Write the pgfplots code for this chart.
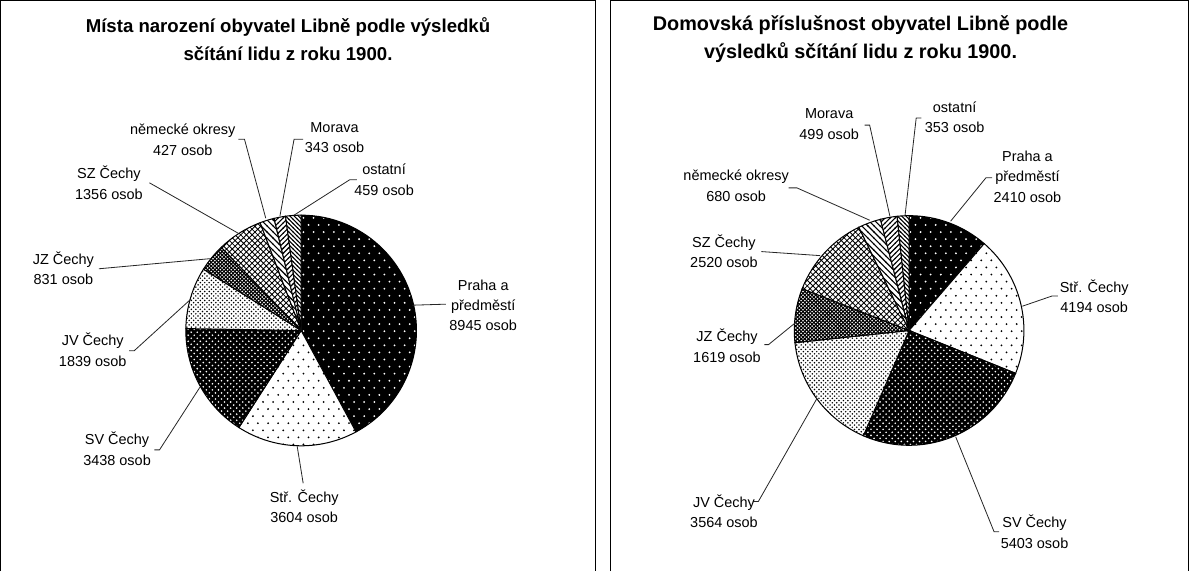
\documentclass[border=0pt]{standalone}
\usepackage{fontspec}
\setmainfont{Liberation Sans}
\usepackage{pgfplots}
\pgfplotsset{compat=1.18}
\usepackage{pgfplotstable}
\usetikzlibrary{patterns}

% ---------- patterns ----------
\pgfdeclarepatternformonly{dotsA}{\pgfqpoint{-1pt}{-1pt}}{\pgfqpoint{4pt}{5pt}}{\pgfqpoint{5pt}{7pt}}{%
  \pgfpathcircle{\pgfqpoint{0pt}{0pt}}{0.5pt}%
  \pgfpathcircle{\pgfqpoint{2.5pt}{3.5pt}}{0.5pt}%
  \pgfusepath{fill}}
\pgfdeclarepatternformonly{dotsB}{\pgfqpoint{-1pt}{-1pt}}{\pgfqpoint{2.5pt}{2.5pt}}{\pgfqpoint{3pt}{3pt}}{%
  \pgfpathcircle{\pgfqpoint{0pt}{0pt}}{0.45pt}%
  \pgfpathcircle{\pgfqpoint{1.5pt}{1.5pt}}{0.45pt}%
  \pgfusepath{fill}}
\pgfdeclarepatternformonly{dotsC}{\pgfqpoint{-1pt}{-1pt}}{\pgfqpoint{2pt}{2pt}}{\pgfqpoint{2.2pt}{2.2pt}}{%
  \pgfpathcircle{\pgfqpoint{0pt}{0pt}}{0.42pt}%
  \pgfpathcircle{\pgfqpoint{1.1pt}{1.1pt}}{0.42pt}%
  \pgfusepath{fill}}
\pgfdeclarepatternformonly{xhatchA}{\pgfqpoint{-0.5pt}{-0.5pt}}{\pgfqpoint{2.3pt}{2.3pt}}{\pgfqpoint{1.8pt}{1.8pt}}{%
  \pgfsetlinewidth{0.5pt}%
  \pgfpathmoveto{\pgfqpoint{-0.2pt}{-0.2pt}}\pgfpathlineto{\pgfqpoint{2pt}{2pt}}%
  \pgfpathmoveto{\pgfqpoint{-0.2pt}{2pt}}\pgfpathlineto{\pgfqpoint{2pt}{-0.2pt}}%
  \pgfusepath{stroke}}
\pgfdeclarepatternformonly{xhatchB}{\pgfqpoint{-0.5pt}{-0.5pt}}{\pgfqpoint{3.3pt}{3.3pt}}{\pgfqpoint{2.8pt}{2.8pt}}{%
  \pgfsetlinewidth{0.4pt}%
  \pgfpathmoveto{\pgfqpoint{-0.2pt}{-0.2pt}}\pgfpathlineto{\pgfqpoint{3pt}{3pt}}%
  \pgfpathmoveto{\pgfqpoint{-0.2pt}{3pt}}\pgfpathlineto{\pgfqpoint{3pt}{-0.2pt}}%
  \pgfusepath{stroke}}
\pgfdeclarepatternformonly{nwA}{\pgfqpoint{-0.5pt}{-0.5pt}}{\pgfqpoint{3.5pt}{3.5pt}}{\pgfqpoint{3pt}{3pt}}{%
  \pgfsetlinewidth{0.55pt}%
  \pgfpathmoveto{\pgfqpoint{-0.2pt}{3.2pt}}\pgfpathlineto{\pgfqpoint{3.2pt}{-0.2pt}}%
  \pgfusepath{stroke}}
\pgfdeclarepatternformonly{neA}{\pgfqpoint{-0.5pt}{-0.5pt}}{\pgfqpoint{3pt}{3pt}}{\pgfqpoint{2.5pt}{2.5pt}}{%
  \pgfsetlinewidth{0.55pt}%
  \pgfpathmoveto{\pgfqpoint{-0.2pt}{-0.2pt}}\pgfpathlineto{\pgfqpoint{2.7pt}{2.7pt}}%
  \pgfusepath{stroke}}
\pgfdeclarepatternformonly{nwB}{\pgfqpoint{-0.5pt}{-0.5pt}}{\pgfqpoint{2.5pt}{2.5pt}}{\pgfqpoint{2.1pt}{2.1pt}}{%
  \pgfsetlinewidth{0.5pt}%
  \pgfpathmoveto{\pgfqpoint{-0.2pt}{2.3pt}}\pgfpathlineto{\pgfqpoint{2.3pt}{-0.2pt}}%
  \pgfusepath{stroke}}

\tikzset{
  slicebase/.style={draw=black, line width=0.5pt},
  slice0/.style={slicebase, preaction={fill=black}, pattern=dotsA, pattern color=white},
  slice1/.style={slicebase, preaction={fill=white}, pattern=dotsA, pattern color=black},
  slice2/.style={slicebase, preaction={fill=black}, pattern=dotsB, pattern color=white},
  slice3/.style={slicebase, preaction={fill=white}, pattern=dotsC, pattern color=black},
  slice4/.style={slicebase, preaction={fill=white}, pattern=xhatchA, pattern color=black},
  slice5/.style={slicebase, preaction={fill=white}, pattern=xhatchB, pattern color=black},
  slice6/.style={slicebase, preaction={fill=white}, pattern=nwA, pattern color=black},
  slice7/.style={slicebase, preaction={fill=white}, pattern=neA, pattern color=black},
  slice8/.style={slicebase, preaction={fill=white}, pattern=nwB, pattern color=black},
  lbl/.style={align=center, font=\fontsize{7.15}{10}\selectfont, inner sep=0pt},
  ttl/.style={align=center, font=\fontsize{9.2}{13.5}\selectfont\bfseries, inner sep=0pt},
  ttlb/.style={align=center, font=\fontsize{9.8}{13.8}\selectfont\bfseries, inner sep=0pt},
  leader/.style={draw=black!85, line width=0.4pt},
  frame/.style={draw=black, line width=0.7pt},
}

% ---------- data ----------
\pgfplotstableread{
name value
Praha 8945
Str 3604
SV 3438
JV 1839
JZ 831
SZ 1356
nemecke 427
Morava 343
ostatni 459
}\narozeni

\pgfplotstableread{
name value
Praha 2410
Str 4194
SV 5403
JV 3564
JZ 1619
SZ 2520
nemecke 680
Morava 499
ostatni 353
}\domovska

% #1 table, #2 cx, #3 cy (axis units = px), #4 radius (canvas)
\newcommand\drawpie[4]{%
  \def\tot{0}%
  \pgfplotsforeachungrouped \i in {0,...,8}{%
    \pgfplotstablegetelem{\i}{value}\of#1%
    \pgfmathsetmacro\tot{\tot+\pgfplotsretval/1000}%
  }%
  \def\angA{90}%
  \pgfplotsforeachungrouped \i in {0,...,8}{%
    \pgfplotstablegetelem{\i}{value}\of#1%
    \pgfmathsetmacro\angB{\angA-(\pgfplotsretval/1000)/\tot*360}%
    \edef\cmd{\noexpand\path[slice\i] (axis cs:#2,#3) -- ++(\angA:#4) arc[start angle=\angA, end angle=\angB, radius=#4] -- cycle;}%
    \cmd
    \let\angA\angB
  }%
}

\begin{document}
\begin{tikzpicture}
\begin{axis}[
  x=0.5pt, y=0.5pt,
  xmin=0, xmax=1189, ymin=0, ymax=574,
  y dir=reverse,
  hide axis, clip=false, enlargelimits=false,
]
% frames
\draw[frame] (axis cs:8,574) -- (axis cs:8,10) -- (axis cs:596,10) -- (axis cs:596,574);
\draw[frame] (axis cs:611,574) -- (axis cs:611,10) -- (axis cs:1182,10) -- (axis cs:1182,574);

% titles
\node[ttl] at (axis cs:292,48) {Místa narození obyvatel Libně podle výsledků\\sčítání lidu z roku 1900.};
\node[ttlb] at (axis cs:858,48) {Domovská příslušnost obyvatel Libně podle\\výsledků sčítání lidu z roku 1900.};

% pies
\drawpie{\narozeni}{305}{336}{57pt}
\drawpie{\domovska}{906}{336}{56.75pt}

% left labels
\draw[leader] (axis cs:243,147) -- (axis cs:249,147) -- (axis cs:270,225);
\node[lbl] at (axis cs:188,147.5) {německé okresy\\427 osob};
\draw[leader] (axis cs:307,147) -- (axis cs:298,147) -- (axis cs:284,223);
\node[lbl] at (axis cs:338,145) {Morava\\343 osob};
\draw[leader] (axis cs:360,187) -- (axis cs:353,187) -- (axis cs:298,222);
\node[lbl] at (axis cs:387,187) {ostatní\\459 osob};
\draw[leader] (axis cs:415,311) -- (axis cs:448,310);
\node[lbl] at (axis cs:485,311) {Praha a\\předměstí\\8945 osob};
\draw[leader] (axis cs:301,450) -- (axis cs:307,487);
\node[lbl] at (axis cs:308,510) {Stř. Čechy\\3604 osob};
\draw[leader] (axis cs:205,392) -- (axis cs:165,454) -- (axis cs:160,454);
\node[lbl] at (axis cs:123,453) {SV Čechy\\3438 osob};
\draw[leader] (axis cs:196,305) -- (axis cs:140,356) -- (axis cs:135,356);
\node[lbl] at (axis cs:99,355) {JV Čechy\\1839 osob};
\draw[leader] (axis cs:105,275) -- (axis cs:215,265);
\node[lbl] at (axis cs:70,274.5) {JZ Čechy\\831 osob};
\draw[leader] (axis cs:155,190) -- (axis cs:243,240);
\node[lbl] at (axis cs:115,190) {SZ Čechy\\1356 osob};

% right labels
\draw[leader] (axis cs:862,133) -- (axis cs:867,133) -- (axis cs:887,223);
\node[lbl] at (axis cs:827,132) {Morava\\499 osob};
\draw[leader] (axis cs:918,126) -- (axis cs:913,126) -- (axis cs:902,222);
\node[lbl] at (axis cs:951,125) {ostatní\\353 osob};
\draw[leader] (axis cs:988,185) -- (axis cs:982,185) -- (axis cs:947,228);
\node[lbl] at (axis cs:1023,184) {Praha a\\předměstí\\2410 osob};
\draw[leader] (axis cs:1053,302) -- (axis cs:1047,302) -- (axis cs:1018,312);
\node[lbl] at (axis cs:1089,302) {Stř. Čechy\\4194 osob};
\draw[leader] (axis cs:787,195) -- (axis cs:795,195) -- (axis cs:867,227);
\node[lbl] at (axis cs:735,193) {německé okresy\\680 osob};
\draw[leader] (axis cs:760,258) -- (axis cs:818,262);
\node[lbl] at (axis cs:723,258) {SZ Čechy\\2520 osob};
\draw[leader] (axis cs:763,350) -- (axis cs:767,350) -- (axis cs:794,328);
\node[lbl] at (axis cs:726,351) {JZ Čechy\\1619 osob};
\draw[leader] (axis cs:815,403) -- (axis cs:757,505) -- (axis cs:752,505);
\node[lbl] at (axis cs:723,515) {JV Čechy\\3564 osob};
\draw[leader] (axis cs:952,441) -- (axis cs:990,535) -- (axis cs:995,535);
\node[lbl] at (axis cs:1030,535) {SV Čechy\\5403 osob};
\end{axis}
\end{tikzpicture}
\end{document}
